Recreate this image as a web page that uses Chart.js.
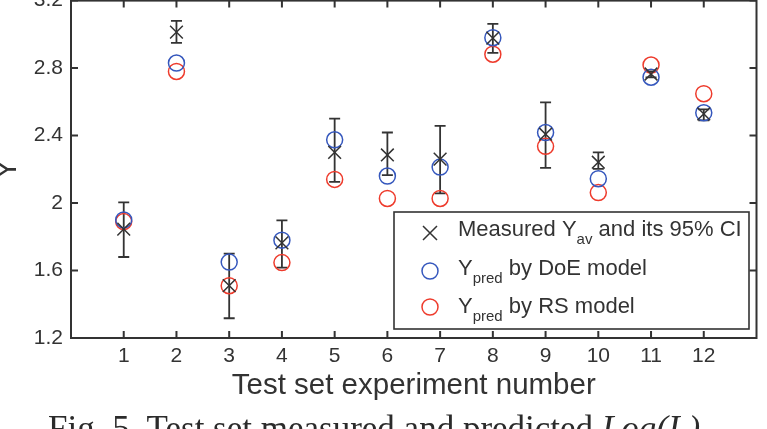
<!DOCTYPE html>
<html>
<head>
<meta charset="utf-8">
<script src="https://cdn.jsdelivr.net/npm/chart.js@4.4.0/dist/chart.umd.min.js"></script>
<style>
  html, body { margin: 0; padding: 0; background: #fff; }
  #wrap { position: relative; width: 767px; height: 429px; overflow: hidden; }
  #chart { position: absolute; left: 0; top: -20px; }
  #caption { position: absolute; left: 48px; top: 411px; font: 35px/35px "Liberation Serif", "Times New Roman", serif; color: #2b2b2b; white-space: nowrap; }
</style>
</head>
<body>
<div id="wrap">
  <canvas id="chart" width="767" height="449"></canvas>
  <div id="caption">Fig. 5. Test set measured and predicted <i>Log(I&nbsp;)</i></div>
</div>
<script>
// test set experiments
const experiments = [1, 2, 3, 4, 5, 6, 7, 8, 9, 10, 11, 12];
// measured average and 95% CI
const measured = [1.845, 3.013, 1.51, 1.764, 2.30, 2.285, 2.26, 2.978, 2.408, 2.242, 2.765, 2.529];
const ciLow    = [1.68, 2.95, 1.317, 1.617, 2.125, 2.165, 2.057, 2.89, 2.209, 2.203, 2.745, 2.49];
const ciHigh   = [2.004, 3.08, 1.70, 1.897, 2.50, 2.418, 2.457, 3.062, 2.597, 2.30, 2.78, 2.555];
// predictions
const doePred  = [1.90, 2.83, 1.65, 1.78, 2.375, 2.16, 2.213, 2.98, 2.418, 2.144, 2.746, 2.535];
const rsPred   = [1.89, 2.78, 1.51, 1.647, 2.14, 2.027, 2.027, 2.882, 2.336, 2.062, 2.818, 2.648];

const FONT = '"Liberation Sans", Arial, sans-serif';
const TEXT = '#333333';
const BLUE = '#3557bd';
const RED = '#ee3b2c';
const DARK = '#333333';

const toPoints = vals => experiments.map((e, i) => ({ x: e, y: vals[i] }));

// error bars under the markers
const errorBars = {
    id: 'errorBars',
    beforeDatasetsDraw(chart) {
        const { ctx, scales: { x, y } } = chart;
        ctx.save();
        ctx.strokeStyle = DARK;
        ctx.lineWidth = 1.8;
        experiments.forEach((e, i) => {
            const px = x.getPixelForValue(e);
            const lo = y.getPixelForValue(ciLow[i]);
            const hi = y.getPixelForValue(ciHigh[i]);
            ctx.beginPath();
            ctx.moveTo(px, lo); ctx.lineTo(px, hi);
            ctx.moveTo(px - 5.5, lo); ctx.lineTo(px + 5.5, lo);
            ctx.moveTo(px - 5.5, hi); ctx.lineTo(px + 5.5, hi);
            ctx.stroke();
        });
        ctx.restore();
    }
};

// matlab style box with inward ticks
const axesBox = {
    id: 'axesBox',
    afterDatasetsDraw(chart) {
        const { ctx, chartArea: a, scales: { x, y } } = chart;
        ctx.save();
        ctx.strokeStyle = DARK;
        ctx.lineWidth = 2;
        ctx.strokeRect(a.left, a.top, a.right - a.left, a.bottom - a.top);
        ctx.beginPath();
        x.ticks.forEach(t => {
            if (t.value < 1 || t.value > 12) return;
            const px = x.getPixelForValue(t.value);
            ctx.moveTo(px, a.bottom); ctx.lineTo(px, a.bottom - 7);
            ctx.moveTo(px, a.top); ctx.lineTo(px, a.top + 7);
        });
        y.ticks.forEach(t => {
            const py = y.getPixelForValue(t.value);
            ctx.moveTo(a.left, py); ctx.lineTo(a.left + 7, py);
            ctx.moveTo(a.right, py); ctx.lineTo(a.right - 7, py);
        });
        ctx.stroke();
        ctx.restore();
    }
};

// legend with subscripts
const subLegend = {
    id: 'subLegend',
    afterDraw(chart) {
        const ctx = chart.ctx;
        const rows = [
            { marker: 'x', color: DARK, my: 253, base: 256, parts: [['Measured Y', 0], ['av', 1], [' and its 95% CI', 0]] },
            { marker: 'o', color: BLUE, my: 291, base: 295, parts: [['Y', 0], ['pred', 1], [' by DoE model', 0]] },
            { marker: 'o', color: RED, my: 327, base: 333, parts: [['Y', 0], ['pred', 1], [' by RS model', 0]] }
        ];
        ctx.save();
        ctx.fillStyle = '#fff';
        ctx.fillRect(394, 232, 355, 117);
        ctx.strokeStyle = DARK;
        ctx.lineWidth = 1.6;
        ctx.strokeRect(394, 232, 355, 117);
        rows.forEach(r => {
            ctx.strokeStyle = r.color;
            ctx.lineWidth = 1.5;
            ctx.beginPath();
            if (r.marker === 'x') {
                ctx.moveTo(430 - 7, r.my - 7); ctx.lineTo(430 + 7, r.my + 7);
                ctx.moveTo(430 + 7, r.my - 7); ctx.lineTo(430 - 7, r.my + 7);
            } else {
                ctx.arc(430, r.my, 8, 0, Math.PI * 2);
            }
            ctx.stroke();
            let tx = 458;
            ctx.fillStyle = TEXT;
            ctx.textBaseline = 'alphabetic';
            ctx.textAlign = 'left';
            r.parts.forEach(([s, sub]) => {
                ctx.font = (sub ? '15px ' : '22px ') + FONT;
                ctx.fillText(s, tx, r.base + (sub ? 8 : 0));
                tx += ctx.measureText(s).width;
            });
        });
        ctx.restore();
    }
};

new Chart(document.getElementById('chart'), {
    type: 'scatter',
    data: {
        datasets: [
            {
                label: 'Measured Yav and its 95% CI',
                data: toPoints(measured),
                pointStyle: 'crossRot',
                radius: 9,
                borderColor: DARK,
                borderWidth: 1.5
            },
            {
                label: 'Ypred by DoE model',
                data: toPoints(doePred),
                pointStyle: 'circle',
                radius: 8,
                backgroundColor: 'rgba(0,0,0,0)',
                borderColor: BLUE,
                borderWidth: 1.5
            },
            {
                label: 'Ypred by RS model',
                data: toPoints(rsPred),
                pointStyle: 'circle',
                radius: 8,
                backgroundColor: 'rgba(0,0,0,0)',
                borderColor: RED,
                borderWidth: 1.5
            }
        ]
    },
    options: {
        responsive: false,
        animation: false,
        layout: { padding: { top: 17, right: 9, bottom: 25.6, left: 0 } },
        plugins: {
            legend: { display: false },
            tooltip: { enabled: false }
        },
        scales: {
            x: {
                type: 'linear',
                min: 0,
                max: 13,
                grid: { display: false, drawTicks: false },
                border: { display: false },
                ticks: {
                    stepSize: 1,
                    autoSkip: false,
                    maxRotation: 0,
                    padding: 6,
                    color: TEXT,
                    font: { family: FONT, size: 21 },
                    callback: v => (v >= 1 && v <= 12) ? String(v) : ''
                },
                title: {
                    display: true,
                    text: 'Test set experiment number',
                    color: TEXT,
                    font: { family: FONT, size: 29.5 },
                    padding: 0
                },
                afterFit: s => { s.height = 65.4; }
            },
            y: {
                min: 1.2,
                max: 3.2,
                grid: { display: false, drawTicks: false },
                border: { display: false },
                ticks: {
                    stepSize: 0.4,
                    padding: 8,
                    color: TEXT,
                    font: { family: FONT, size: 21 },
                    callback: v => String(Math.round(v * 10) / 10)
                },
                title: {
                    display: true,
                    text: 'Y',
                    color: TEXT,
                    font: { family: FONT, size: 29.5, lineHeight: 0.52 },
                    padding: 0
                },
                afterFit: s => { s.width = 71; }
            }
        }
    },
    plugins: [errorBars, axesBox, subLegend]
});
</script>
</body>
</html>
